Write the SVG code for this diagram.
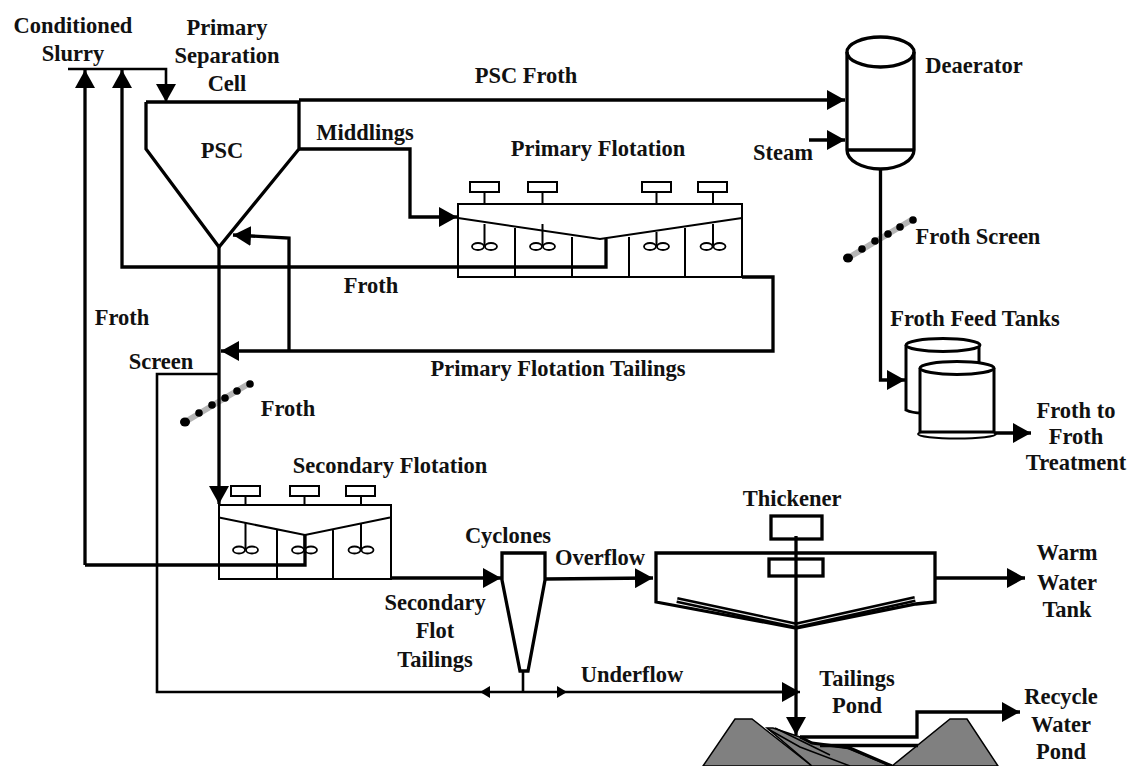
<svg xmlns="http://www.w3.org/2000/svg" width="1132" height="766" viewBox="0 0 1132 766">
<style>
text{font-family:"Liberation Serif","Times New Roman",serif;font-weight:700;font-size:22.500px;fill:#111;text-anchor:middle}
.t{fill:none;stroke:#000;stroke-width:3.300;stroke-linejoin:miter}
.m{fill:none;stroke:#000;stroke-width:2}
.n{fill:none;stroke:#000;stroke-width:2.600}
.w{fill:#fff;stroke:#000;stroke-width:3}
.a{marker-end:url(#ah)}
.s{marker-end:url(#sh)}
.i{fill:#fff;stroke:#000;stroke-width:1.800}
.g{fill:#808080;stroke:#000;stroke-width:1.500}
</style>
<defs>
<marker id="ah" markerUnits="userSpaceOnUse" markerWidth="18" markerHeight="20" refX="18" refY="10" orient="auto"><path d="M0,0L18,10L0,20Z" fill="#000"/></marker>
<marker id="sh" markerUnits="userSpaceOnUse" markerWidth="10" markerHeight="12" refX="10" refY="6" orient="auto"><path d="M0,0L10,6L0,12Z" fill="#000"/></marker>
<g id="screen"><line x1="0" y1="0" x2="65" y2="-39" stroke="#b5b5b5" stroke-width="6"/><ellipse cx="0" cy="0" rx="5" ry="4.500" fill="#000"/><circle cx="14" cy="-9" r="3.800"/><circle cx="27" cy="-17" r="3.800"/><circle cx="40" cy="-24" r="3.800"/><circle cx="52" cy="-31" r="3.800"/><circle cx="65" cy="-38" r="3.800"/></g>
<g id="imp"><ellipse cx="-6.500" cy="0" rx="6" ry="3.500" class="i"/><ellipse cx="6.500" cy="0" rx="6" ry="3.500" class="i"/></g>
</defs>
<rect width="1132" height="766" fill="#fff"/>

<g id="psc"><path class="t" d="M146,102V149L219,247L299,149V102H146"/><text x="222" y="158">PSC</text></g>

<g id="primary-flotation">
<rect x="458" y="204" width="284" height="73" class="m"/>
<path class="m" d="M458,218L600,239L742,218M515,228V277M572,237V277M629,237V277M685,228V277"/>
<path class="m" d="M484.500,192V204M542.500,192V204M656.500,192V204M713,192V204M484.500,224V246M542.500,224V246M656.500,232V246M713,224V246"/>
<g class="m"><rect x="470" y="182" width="29" height="10"/><rect x="528" y="182" width="29" height="10"/><rect x="642" y="182" width="29" height="10"/><rect x="698" y="182" width="29" height="10"/></g>
<use href="#imp" x="484.500" y="246.500"/><use href="#imp" x="542.500" y="246.500"/><use href="#imp" x="656.500" y="246.500"/><use href="#imp" x="713" y="246.500"/>
<text x="598" y="156">Primary Flotation</text>
</g>

<g id="deaerator">
<path class="t" d="M847,52V150A33.500,19 0 0 0 914,150V52"/><ellipse cx="880.500" cy="52" rx="33.500" ry="15" class="t"/>
<line x1="847" y1="150" x2="914" y2="150" class="t"/>
<text x="974" y="73">Deaerator</text>
</g>

<g id="froth-screen"><use href="#screen" x="848" y="258"/><text x="978" y="244">Froth Screen</text></g>

<g id="froth-feed-tanks">
<path class="w" d="M906,345V410Q912,413 922,413H979V345"/><ellipse cx="943" cy="345" rx="37" ry="6.500" class="w"/>
<ellipse cx="957" cy="434" rx="39" ry="4.500" class="m"/>
<path class="w" d="M920,368V432H994V368"/><ellipse cx="957" cy="368" rx="37" ry="6.500" class="w"/>
<text x="975" y="326">Froth Feed Tanks</text>
</g>

<g id="screen-lower"><use href="#screen" x="185" y="422"/></g>

<g id="secondary-flotation">
<rect x="219" y="505" width="172" height="74" class="m"/>
<path class="m" d="M219,517.500L305,535L390,517.500M277,530V579M333,530V579"/>
<path class="m" d="M245.500,496V505M304.500,496V505M361,496V505M245.500,523V550M304.500,535V550M361,523V550"/>
<g class="m"><rect x="231" y="486" width="29" height="10"/><rect x="290" y="486" width="29" height="10"/><rect x="346" y="486" width="29" height="10"/></g>
<use href="#imp" x="245.500" y="550"/><use href="#imp" x="304.500" y="550"/><use href="#imp" x="361" y="550"/>
<text x="390" y="473">Secondary Flotation</text>
</g>

<g id="cyclones"><path class="t" d="M502,553H545V580L528,671H520L502,580Z"/><text x="508" y="543">Cyclones</text></g>

<g id="thickener">
<path class="t" d="M656,553H935V602L916,604L796,628L656,602Z"/>
<path d="M677,600L796,625.500L915,599" fill="none" stroke="#000" stroke-width="6"/>
<path d="M677,600L796,625.500L915,599" fill="none" stroke="#e8e8e8" stroke-width="1.200"/>
<rect x="771" y="516" width="51" height="23" class="t"/><rect x="769" y="559" width="54" height="17" class="t"/>
<text x="792" y="506">Thickener</text>
</g>

<g id="tailings-pond">
<path class="g" d="M703,766L735,719H752L812,766Z"/>
<path class="g" d="M892,766L950,719H967L998,766Z"/>
<path class="g" d="M767,728H773L800,737L812,743L847,748L890,766H812Z"/>
<path d="M768,729L800,747L850,766M775,728L830,755" fill="none" stroke="#000" stroke-width="1.500"/>
<path d="M800,737L812,743L850,748L892,766" fill="none" stroke="#000" stroke-width="3"/>
<text x="857" y="686">Tailings</text><text x="857" y="713">Pond</text>
</g>

<g id="connectors">
<path class="n a" d="M68,69H166V102"/>
<path class="t a" d="M85,565V70"/>
<path class="t a" d="M606,239V267H122V70"/>
<path class="t a" d="M299,100H845"/>
<path class="t a" d="M299,149H410V217H457"/>
<path class="t" d="M305,535V565H85"/>
<path class="t a" d="M742,277H773V351H221"/>
<path class="t a" d="M289,351V238L233,235"/>
<path class="t a" d="M219,247V504"/>
<path class="n" d="M219,374H157V692H798"/>
<path class="n" d="M523,671V692"/>
<path class="s" d="M500,692H480" stroke="#000" stroke-width="2"/>
<path class="s" d="M540,692H567" stroke="#000" stroke-width="2"/>
<path class="n a" d="M700,692H800"/>
<path class="t a" d="M391,578H501"/>
<path class="t a" d="M545,579L653,578"/>
<path class="t a" d="M796,536V735"/>
<path class="t a" d="M935,578H1025"/>
<path class="t a" d="M809,140H845"/>
<path class="t a" d="M880.500,169V380H905"/>
<path class="t a" d="M994,433H1031"/>
<path class="t a" d="M800,737H917V712H1020"/>
<path class="t" d="M820,745.500H918"/>
</g>

<g id="labels">
<text x="73" y="33">Conditioned</text><text x="73" y="61">Slurry</text>
<text x="227" y="35">Primary</text><text x="227" y="63">Separation</text><text x="227" y="91">Cell</text>
<text x="365" y="140">Middlings</text>
<text x="526" y="83">PSC Froth</text>
<text x="783" y="160">Steam</text>
<text x="371" y="293">Froth</text>
<text x="122" y="325">Froth</text>
<text x="161" y="369">Screen</text>
<text x="288" y="416">Froth</text>
<text x="558" y="376">Primary Flotation Tailings</text>
<text x="600" y="565">Overflow</text>
<text x="435" y="610">Secondary</text><text x="435" y="638">Flot</text><text x="435" y="667">Tailings</text>
<text x="632" y="682">Underflow</text>
<text x="1076" y="418">Froth to</text><text x="1076" y="444">Froth</text><text x="1076" y="470">Treatment</text>
<text x="1067" y="560">Warm</text><text x="1067" y="590">Water</text><text x="1067" y="617">Tank</text>
<text x="1061" y="704">Recycle</text><text x="1061" y="732">Water</text><text x="1061" y="759">Pond</text>
</g>
</svg>
